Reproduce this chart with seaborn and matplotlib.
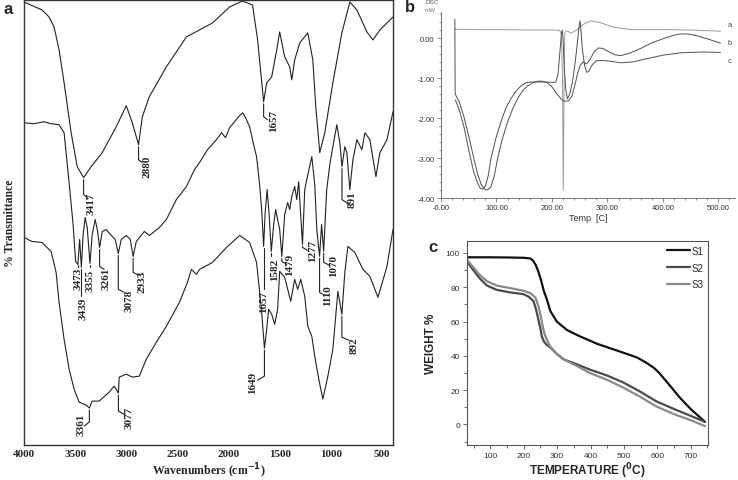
import numpy as np
import pandas as pd
import matplotlib
matplotlib.use("Agg")
import matplotlib.pyplot as plt
from matplotlib.ticker import MultipleLocator
import seaborn as sns

sns.set_theme(style="white")
plt.rcParams['font.family'] = ['Liberation Sans', 'DejaVu Sans']

# ---------------- panel a: FTIR spectra (wavenumber, relative transmittance)
top_wn = [4000, 3824, 3755, 3706, 3657, 3608, 3539, 3480, 3417, 3343, 3235, 3098, 3000, 2941,
          2880, 2843, 2775, 2608, 2412, 2157, 1990, 1863, 1765, 1716, 1657, 1627, 1578, 1529,
          1500, 1451, 1402, 1382, 1353, 1304, 1225, 1176, 1147, 1108, 1059, 980, 892, 814, 745,
          647, 588, 520, 392]
top_t = [444, 436, 429, 419, 396, 363, 313, 279, 268, 279, 293, 319, 340, 323,
         301, 329, 349, 379, 409, 423, 439, 445, 441, 406, 344, 363, 369, 396,
         414, 389, 379, 366, 386, 403, 413, 386, 339, 293, 313, 363, 413, 444, 436,
         414, 406, 416, 429]

mid_wn = [4000, 3902, 3804, 3735, 3657, 3608, 3559, 3520, 3495, 3473, 3456, 3439, 3422, 3402,
          3382, 3355, 3333, 3304, 3280, 3261, 3235, 3196, 3147, 3108, 3078, 3049, 3000, 2961,
          2933, 2902, 2824, 2775, 2676, 2608, 2510, 2412, 2333, 2284, 2206, 2118, 2069, 2029,
          1990, 1941, 1902, 1863, 1833, 1794, 1755, 1726, 1696, 1676, 1657, 1643, 1623, 1603,
          1582, 1559, 1539, 1520, 1500, 1479, 1451, 1422, 1402, 1382, 1353, 1333, 1314, 1277,
          1255, 1225, 1186, 1157, 1137, 1110, 1090, 1070, 1040, 1010, 980, 941, 912, 891, 863,
          843, 814, 784, 745, 696, 667, 618, 559, 520, 451, 392]
mid_t = [323, 322, 324, 322, 321, 313, 263, 221, 184, 181, 206, 178, 211, 228,
         218, 182, 211, 226, 214, 198, 214, 216, 210, 206, 192, 206, 210, 206,
         189, 204, 214, 210, 218, 226, 246, 259, 276, 283, 296, 306, 313, 308,
         318, 324, 329, 333, 328, 319, 301, 289, 261, 236, 199, 231, 256, 231,
         194, 221, 236, 226, 216, 189, 231, 243, 236, 249, 259, 246, 264, 201,
         256, 271, 289, 261, 216, 189, 221, 194, 256, 281, 299, 321, 303, 279, 299,
         293, 256, 286, 306, 296, 313, 306, 269, 293, 306, 334]

bot_wn = [4000, 3922, 3824, 3735, 3686, 3657, 3608, 3559, 3510, 3461, 3392, 3361, 3333, 3265,
          3167, 3118, 3077, 3069, 3000, 2941, 2873, 2804, 2706, 2608, 2480, 2402, 2363, 2314,
          2284, 2157, 2020, 1892, 1794, 1726, 1676, 1649, 1627, 1608, 1578, 1549, 1520, 1500,
          1451, 1392, 1353, 1324, 1294, 1255, 1225, 1186, 1157, 1118, 1078, 1029, 980, 931,
          892, 863, 833, 765, 686, 618, 539, 451, 392]
bot_t = [208, 204, 203, 194, 173, 143, 106, 76, 56, 43, 40, 37, 44, 44,
         53, 59, 52, 68, 71, 68, 69, 86, 103, 119, 143, 163, 176, 171,
         176, 183, 198, 210, 203, 183, 133, 97, 116, 136, 131, 121, 136, 174,
         168, 144, 166, 156, 166, 149, 119, 109, 89, 66, 46, 69, 96, 154,
         131, 173, 199, 193, 176, 169, 148, 179, 216]

# label, peak, line start, kink, leader end (wn, t), text centre (wn, t)
ir_peaks = [
    ("3417", 3417, 266, 251, 3373, 247, 3340, 243),
    ("2880", 2880, 299, 286, 2843, 283, 2794, 280),
    ("1657", 1657, 342, 329, 1618, 326, 1559, 326),
    ("891", 891, 277, 246, 834, 242, 794, 247),
    ("3473", 3473, 180, 178, 3473, 178, 3471, 168),
    ("3439", 3439, 176, 149, 3439, 149, 3422, 137),
    ("3355", 3355, 180, 178, 3355, 178, 3353, 165),
    ("3261", 3261, 196, 179, 3216, 176, 3200, 167),
    ("3078", 3078, 190, 156, 3020, 153, 2971, 145),
    ("2933", 2933, 187, 173, 2873, 170, 2843, 165),
    ("1657", 1657, 197, 156, 1657, 156, 1652, 144),
    ("1582", 1582, 192, 189, 1582, 189, 1549, 177),
    ("1479", 1479, 187, 184, 1431, 181, 1400, 181),
    ("1277", 1277, 199, 198, 1225, 195, 1176, 195),
    ("1110", 1110, 187, 153, 1059, 150, 1035, 151),
    ("1070", 1070, 192, 183, 1010, 180, 969, 180),
    ("3361", 3361, 35, 23, 3412, 19, 3441, 21),
    ("3077", 3077, 50, 34, 3010, 30, 2971, 28),
    ("1649", 1649, 95, 69, 1716, 65, 1765, 63),
    ("892", 892, 129, 108, 824, 105, 775, 101),
]

# ---------------- panel b: DSC (temperature C, mW)
dsc_a_T = [25, 60, 100, 150, 200, 214, 217, 219, 220.5, 222, 223, 225, 228, 234, 245, 255,
           270, 288, 311, 342, 400, 450, 504]
dsc_a_v = [0.22, 0.21, 0.21, 0.2, 0.2, 0.19, 0.1, -1.0, -3.8, -1.0, 0.1, 0.17, 0.18, 0.12, 0.2,
           0.33, 0.43, 0.38, 0.27, 0.21, 0.21, 0.2, 0.17]
dsc_b_T = [25, 25.5, 33, 41, 50, 59, 66, 73, 79, 84, 90, 96, 102, 110, 120, 129, 138, 147, 156,
           165, 174, 182, 192, 200, 208, 216, 222, 230, 236, 241, 246, 251, 256, 262, 268, 276,
           284, 292, 303, 314, 324, 340, 360, 380, 400, 420, 432, 445, 460, 480, 504]
dsc_b_v = [0.47, -1.4, -1.6, -1.95, -2.45, -3.0, -3.4, -3.68, -3.78, -3.8, -3.72, -3.45, -3.02,
           -2.55, -2.1, -1.78, -1.52, -1.32, -1.2, -1.12, -1.08, -1.08, -1.12, -1.22, -1.38,
           -1.52, -1.58, -1.57, -1.45, -1.2, -0.9, -0.68, -0.6, -0.65, -0.55, -0.35, -0.25,
           -0.26, -0.35, -0.42, -0.44, -0.38, -0.26, -0.12, -0.02, 0.07, 0.1, 0.1, 0.06, -0.02,
           -0.13]
dsc_c_T = [26, 33, 41, 50, 59, 66, 71, 75, 80, 85, 90, 99, 108, 117, 126, 135, 144, 153, 162,
           175, 190, 200, 207, 211, 214, 217, 218.5, 220, 222, 225, 228, 232, 237, 242, 246,
           249, 250.5, 252, 255, 259, 263, 267, 272, 280, 290, 305, 324, 345, 370, 400, 432,
           470, 504]
dsc_c_v = [-1.55, -1.8, -2.2, -2.8, -3.35, -3.62, -3.76, -3.78, -3.7, -3.45, -3.02, -2.5, -2.1,
           -1.75, -1.52, -1.33, -1.2, -1.12, -1.1, -1.1, -1.1, -1.11, -1.1, -0.9, -0.4, 0.1,
           0.2, 0.0, -0.7, -1.3, -1.52, -1.4, -1.1, -0.6, -0.1, 0.3, 0.43, 0.25, -0.3, -0.7,
           -0.86, -0.82, -0.68, -0.57, -0.56, -0.58, -0.62, -0.6, -0.52, -0.43, -0.37, -0.35,
           -0.36]

# ---------------- panel c: TGA (temperature C, weight %)
s1_T = [30, 100, 150, 200, 220, 228, 236, 244, 252, 260, 269, 280, 299, 330, 367, 420, 496,
        540, 567, 590, 606, 630, 666, 700, 743]
s1_w = [97.5, 97.5, 97.4, 97.2, 96.8, 95.5, 93, 89, 84, 78, 73, 66, 60, 55, 51.5, 47, 42, 39,
        36, 33, 30, 24.5, 16, 9, 1.5]
s2_T = [30, 45, 69, 90, 119, 160, 199, 215, 229, 237, 244, 250, 254, 260, 268, 279, 300, 319,
        360, 398, 450, 498, 550, 597, 650, 700, 743]
s2_w = [95, 91, 85, 81, 78.5, 77, 76, 74.5, 72, 67, 61, 56, 51.5, 48.5, 46.5, 45, 41, 38, 35,
        32, 28.5, 24.5, 19, 13.5, 9, 5, 1.5]
s3_T = [30, 45, 69, 90, 119, 160, 199, 220, 235, 244, 250, 256, 262, 270, 279, 300, 319, 360,
        398, 450, 498, 550, 597, 650, 700, 743]
s3_w = [96, 92.5, 87, 83.5, 81, 79.5, 78, 76.5, 74, 69, 64, 58, 53, 49, 45.5, 41, 38, 34, 30,
        26, 21.5, 16, 10.5, 6, 2.5, -1]

W, H = 738, 481
fig = plt.figure(figsize=(W / 100, H / 100), dpi=100)


def box(l, t, r, b):
    return [l / W, 1 - b / H, (r - l) / W, (b - t) / H]


serif = ['Liberation Serif', 'DejaVu Serif']

# ---- a
ax = fig.add_axes(box(24, 1, 393, 446))
for wn, t in [(top_wn, top_t), (mid_wn, mid_t), (bot_wn, bot_t)]:
    sns.lineplot(x=wn, y=t, sort=False, estimator=None, ax=ax, color='#222222', lw=0.8)
for lab, wp, v0, vk, we, ve, wt, vt in ir_peaks:
    ax.plot([wp, wp, we], [v0, vk, ve], color='#222222', lw=0.8)
    ax.text(wt, vt, lab, rotation=90, ha='center', va='center', fontsize=8,
            fontweight='bold', family=serif)
ax.set_xlim(4000, 392)
ax.set_ylim(0, 446)
ax.set_xticks(range(4000, 499, -500))
ax.set_xticklabels([str(v) for v in range(4000, 499, -500)], fontsize=8,
                   fontweight='bold', family=serif)
ax.set_yticks([])
ax.tick_params(axis='x', length=0, pad=3)
for s in ax.spines.values():
    s.set_color('#333333')
    s.set_linewidth(1.0)
ax.set_xlabel('Wavenumbers (cm$^{\\mathbf{-1}}$)', fontsize=8.5, fontweight='bold',
              family=serif, labelpad=2)
ax.set_ylabel('% Transmittance', fontsize=8.5, fontweight='bold', family=serif, labelpad=6)
fig.text(3 / W, 1 - 9 / H, 'a', fontsize=12, fontweight='bold', va='center')

# ---- b
bx = fig.add_axes(box(441, 13, 735, 199))
dsc_grey = {'a': '#9a9a9a', 'b': '#505050', 'c': '#505050'}
for name, T, v in [('a', dsc_a_T, dsc_a_v), ('b', dsc_b_T, dsc_b_v), ('c', dsc_c_T, dsc_c_v)]:
    sns.lineplot(x=T, y=v, sort=False, estimator=None, ax=bx, color=dsc_grey[name], lw=0.7)
for name, y in [('a', 0.35), ('b', -0.12), ('c', -0.57)]:
    bx.text(516, y, name, fontsize=5.5, color='#444444', va='center')
bx.set_xlim(0, 530)
bx.set_ylim(-4.0, 0.65)
bx.set_xticks(range(0, 501, 100))
bx.set_xticklabels(['-0.00'] + ['%d.00' % v for v in range(100, 501, 100)], fontsize=5.5,
                   color='#333333')
bx.set_yticks([0, -1, -2, -3, -4])
bx.set_yticklabels(['0.00', '-1.00', '-2.00', '-3.00', '-4.00'], fontsize=5.5, color='#333333')
bx.xaxis.set_minor_locator(MultipleLocator(20))
bx.yaxis.set_minor_locator(MultipleLocator(0.2))
bx.tick_params(which='both', direction='out', color='#777777', width=0.6, bottom=True, left=True)
bx.tick_params(which='major', length=3, pad=1.5)
bx.tick_params(which='minor', length=1.5)
for k in ['top', 'right']:
    bx.spines[k].set_visible(False)
for k in ['left', 'bottom']:
    bx.spines[k].set_color('#777777')
    bx.spines[k].set_linewidth(0.7)
bx.set_xlabel('Temp  [C]', fontsize=6.5, color='#333333', labelpad=1)
fig.text(425 / W, 1 - 3 / H, 'DSC', fontsize=4.5, color='#555555', va='center')
fig.text(425 / W, 1 - 11 / H, 'mW', fontsize=4.5, color='#777777', va='center')
fig.text(405 / W, 1 - 8 / H, 'b', fontsize=12, fontweight='bold', va='center')

# ---- c
cx = fig.add_axes(box(467, 242, 708, 446))
tga = pd.DataFrame({
    'T': s1_T + s2_T + s3_T,
    'w': s1_w + s2_w + s3_w,
    'sample': ['S1'] * len(s1_T) + ['S2'] * len(s2_T) + ['S3'] * len(s3_T),
})
pal = {'S1': '#111111', 'S2': '#4a4a4a', 'S3': '#8a8a8a'}
sns.lineplot(data=tga, x='T', y='w', hue='sample', palette=pal, sort=False,
             estimator=None, ax=cx, lw=1.6)
cx.set_xlim(30, 752)
cx.set_ylim(-12, 107)
cx.set_xticks(range(100, 701, 100))
cx.set_yticks(range(0, 101, 20))
cx.xaxis.set_minor_locator(MultipleLocator(50))
cx.yaxis.set_minor_locator(MultipleLocator(10))
cx.tick_params(which='both', direction='out', color='#555555', width=0.6, bottom=True, left=True,
               labelsize=6, labelcolor='#333333')
cx.tick_params(which='major', length=3, pad=2)
cx.tick_params(which='minor', length=2)
for s in cx.spines.values():
    s.set_color('#555555')
    s.set_linewidth(0.8)
cx.set_xlabel('TEMPERATURE ($^{\\mathbf{0}}$C)', fontsize=8.5, fontweight='bold', labelpad=1)
cx.set_ylabel('WEIGHT %', fontsize=8.5, fontweight='bold', labelpad=6)
leg = cx.legend(loc='upper right', frameon=False, fontsize=7, handlelength=2.4,
                handletextpad=0.1, labelspacing=0.7, borderaxespad=0.1)
fig.text(428 / W, 1 - 248 / H, 'c', fontsize=12, fontweight='bold', va='center')

fig.savefig('out.png', dpi=100)
